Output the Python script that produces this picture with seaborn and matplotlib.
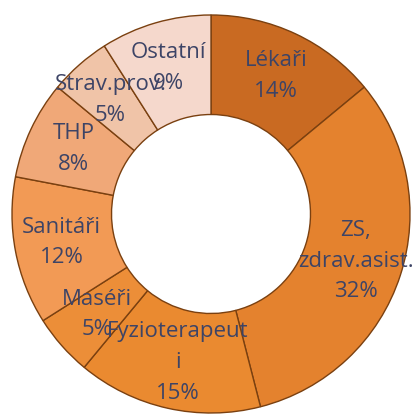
import matplotlib
matplotlib.use("Agg")
import matplotlib.pyplot as plt
import seaborn as sns
import numpy as np

categories = ["Lékaři", "ZS,\nzdrav.asist.", "Fyzioterapeut\ni", "Maséři", "Sanitáři", "THP", "Strav.prov.", "Ostatní"]
values = [14, 32, 15, 5, 12, 8, 5, 9]
colors = ["#C96A22", "#E4822E", "#EA8A30", "#EC8E38", "#F29A55", "#F0A878", "#F0C4A8", "#F5D8CC"]

sns.set_theme(style="white")
plt.rcParams['font.family'] = ['Open Sans', 'DejaVu Sans']

fig = plt.figure(figsize=(4.16, 4.15), dpi=100)
ax = fig.add_axes([0, 0, 1, 1])
palette = sns.color_palette(colors)
wedges, _ = ax.pie(values, colors=palette, startangle=90, counterclock=False,
                   radius=1.0, wedgeprops=dict(width=0.5, edgecolor="#7A4010", linewidth=1.0))

for w, cat, v in zip(wedges, categories, values):
    ang = np.deg2rad((w.theta1 + w.theta2) / 2)
    r = 0.765
    ax.text(r * np.cos(ang), r * np.sin(ang), f"{cat}\n{v}%", ha="center", va="center",
            fontsize=16, color="#3D4466", linespacing=1.6)

R = 199.0
ax.set_xlim(-211 / R, 205 / R)
ax.set_ylim(-201 / R, 214 / R)
ax.set_aspect("equal", adjustable="datalim")
ax.axis("off")
fig.savefig("out.png", dpi=100)
